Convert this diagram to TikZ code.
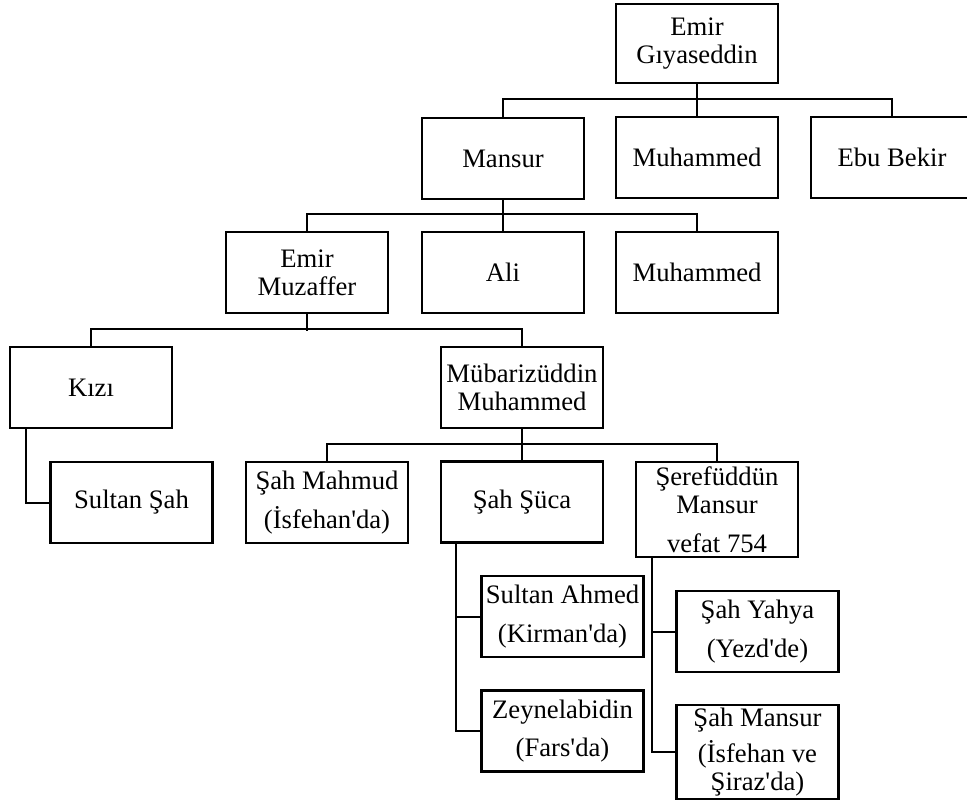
\documentclass[tikz,border=0pt]{standalone}
\usepackage{fontspec}
\setmainfont{Liberation Serif}
\usetikzlibrary{positioning}
\newcommand{\apos}{\textquotesingle}

\begin{document}
\begin{tikzpicture}[
  x=0.75pt,
  y=-0.75pt,
  every node/.style={font=\fontsize{20}{21}\selectfont, black},
  person/.style={draw, line width=1.6pt, minimum width=121.5pt,
    minimum height=60.75pt, inner sep=0pt, align=center},
  tall/.style={person, minimum height=71pt},
  link/.style={black, line width=1.5pt}
]
  \useasboundingbox (0,0) rectangle (967,803);

  % ---- generation 1 and 2 ----------------------------------------------
  \node[person, minimum height=59pt] (giyas) at (697,43.5) {Emir\\Gıyaseddin};
  \node[person] (mansur) at (503,158.5) {Mansur};
  \node[person] (muhA) at (697,157.5) {Muhammed};
  \node[person] (ebu) at (892,157.5) {Ebu Bekir};

  % ---- generation 3 ----------------------------------------------------
  \node[person] (muzaffer) at (307,272.5) {Emir\\Muzaffer};
  \node[person] (ali) at (503,272.5) {Ali};
  \node[person] (muhB) at (697,272.5) {Muhammed};

  % ---- generation 4 ----------------------------------------------------
  \node[person] (kizi) at (91,387.5) {Kızı};
  \node[person] (mubariz) at (522,387.5) {Mübarizüddin\\Muhammed};

  % ---- generation 5 ----------------------------------------------------
  \node[person] (sultansah) at (131.5,502.5) {Sultan Şah};
  \node[person] (mahmud) at (327,502.5) {Şah Mahmud\\[8pt](İsfehan\apos da)};
  \node[person] (suca) at (522,502) {Şah Şüca};
  \node[tall] (seref) at (717,509.5) {Şerefüddün\\Mansur\\[8pt]vefat 754};

  % ---- generation 6 ----------------------------------------------------
  \node[person] (ahmed) at (562.5,616.5) {Sultan Ahmed\\[8pt](Kirman\apos da)};
  \node[person] (zeyn) at (562.5,731) {Zeynelabidin\\[7pt](Fars\apos da)};
  \node[person] (yahya) at (757.5,631.5) {Şah Yahya\\[8pt](Yezd\apos de)};
  \node[tall, minimum height=70pt] (smansur) at (757.5,752)
    {Şah Mansur\\[6pt](İsfehan ve\\[0pt]Şiraz\apos da)};

  % ---- bus lines -------------------------------------------------------
  \draw[link] (giyas.south) -- (muhA.north);
  \draw[link] (mansur.north) -- ++(0,-18) -| (ebu.north);
  \draw[link] (mansur.south) -- (ali.north);
  \draw[link] (muzaffer.north) -- ++(0,-17) -| (muhB.north);
  \draw[link] (muzaffer.south) -- ++(0,17);
  \draw[link] (kizi.north) -- ++(0,-17) -| (mubariz.north);
  \draw[link] (mubariz.south) -- (suca.north);
  \draw[link] (mahmud.north) -- ++(0,-17) -| (seref.north);

  % ---- side branches ---------------------------------------------------
  \draw[link] (kizi.south west) ++(17,0) |- (sultansah.west);
  \draw[link] (suca.south west) ++(16,0) |- (zeyn.west);
  \draw[link] (suca.south west) ++(16,0) |- (ahmed.west);
  \draw[link] (seref.south west) ++(17,0) |- (smansur.west);
  \draw[link] (seref.south west) ++(17,0) |- (yahya.west);
\end{tikzpicture}
\end{document}
